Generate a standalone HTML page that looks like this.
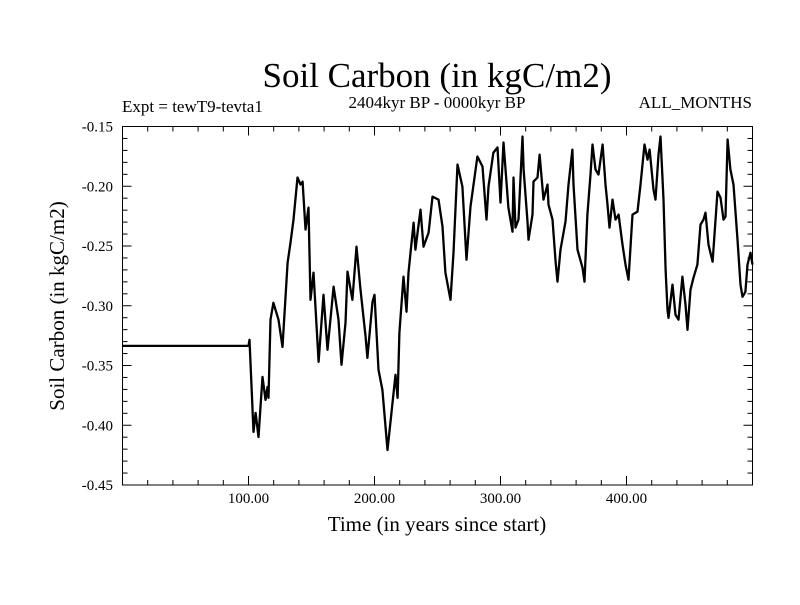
<!DOCTYPE html>
<html><head><meta charset="utf-8"><style>
body{margin:0;background:#fff}
svg text{font-family:"Liberation Serif",serif;fill:#000}
</style></head><body>
<svg id="chart" width="800" height="600" xmlns="http://www.w3.org/2000/svg">
<rect width="800" height="600" fill="#fff"/>
<text x="437" y="87" font-size="35" text-anchor="middle">Soil Carbon (in kgC/m2)</text>
<text x="437" y="108" font-size="17" text-anchor="middle">2404kyr BP - 0000kyr BP</text>
<text x="122" y="112" font-size="17">Expt = tewT9-tevta1</text>
<text x="752" y="108" font-size="17" text-anchor="end">ALL_MONTHS</text>
<text x="437" y="531" font-size="21" text-anchor="middle">Time (in years since start)</text>
<text transform="translate(64,306) rotate(-90)" font-size="21" text-anchor="middle">Soil Carbon (in kgC/m2)</text>
<g id="axes"></g>
<path id="series" fill="none" stroke="#000" stroke-width="2.3" stroke-linejoin="round"/>
<rect x="122.5" y="126.5" width="630" height="358.5" fill="none" stroke="#000" stroke-width="1"/>
</svg>
<script>
const years=[0,100,100.8,104.0,105.6,107.9,111.1,113.5,115.1,115.9,117.5,119.8,123.8,127.0,131.0,133.3,135.7,138.9,141.3,142.9,145.2,147.6,149.2,151.6,155.6,159.5,162.7,167.5,171.4,173.8,177.0,178.6,182.5,185.7,188.9,192.9,194.4,198.4,200.0,203.2,206.3,210.3,214.3,216.7,218.3,219.8,223.0,225.4,227.0,231.0,232.5,236.5,238.9,242.9,246.0,250.8,254.0,256.3,260.3,262.7,265.9,269.8,273.0,276.2,281.7,285.7,288.9,290.5,294.4,297.6,300.0,302.4,306.3,309.5,310.3,311.9,314.3,317.5,318.3,321.4,322.2,325.4,326.2,329.4,331.0,334.1,337.3,338.1,341.3,343.7,345.2,347.6,351.6,354.0,357.1,357.9,361.1,365.1,366.7,369.0,371.4,373.0,375.4,377.8,381.0,383.3,384.9,386.5,388.9,391.3,393.7,396.8,399.2,401.6,404.8,408.7,411.1,414.3,416.7,418.3,421.4,423.0,425.4,427.0,429.4,431.0,432.5,433.3,436.5,438.9,441.3,444.4,446.8,448.4,450.8,453.2,456.3,458.7,461.1,462.7,465.1,468.3,472.2,474.6,477.0,478.6,480.2,482.5,484.9,488.1,490.5,492.1,494.4,496.0,498.4,500];
const carbon=[-0.3336,-0.3336,-0.3285,-0.4056,-0.3897,-0.4098,-0.3595,-0.3788,-0.3679,-0.3771,-0.3117,-0.2975,-0.3117,-0.3344,-0.2640,-0.2472,-0.2279,-0.1927,-0.1986,-0.1961,-0.2363,-0.2179,-0.2950,-0.2723,-0.3469,-0.2908,-0.3369,-0.2841,-0.3117,-0.3494,-0.3143,-0.2715,-0.2950,-0.2506,-0.2866,-0.3260,-0.3436,-0.2967,-0.2908,-0.3536,-0.3704,-0.4207,-0.3813,-0.3578,-0.3771,-0.3226,-0.2757,-0.3050,-0.2723,-0.2304,-0.2531,-0.2196,-0.2506,-0.2388,-0.2087,-0.2112,-0.2338,-0.2723,-0.2950,-0.2556,-0.1818,-0.2003,-0.2615,-0.2170,-0.1751,-0.1835,-0.2279,-0.2003,-0.1718,-0.1676,-0.2137,-0.1634,-0.2179,-0.2380,-0.1927,-0.2346,-0.2279,-0.1584,-0.1860,-0.2296,-0.2447,-0.2237,-0.1961,-0.1927,-0.1735,-0.2112,-0.1986,-0.2154,-0.2279,-0.2631,-0.2799,-0.2531,-0.2296,-0.1986,-0.1693,-0.1986,-0.2531,-0.2682,-0.2799,-0.2237,-0.1902,-0.1651,-0.1860,-0.1902,-0.1651,-0.1986,-0.2154,-0.2346,-0.2112,-0.2279,-0.2237,-0.2489,-0.2656,-0.2782,-0.2237,-0.2212,-0.1986,-0.1651,-0.1777,-0.1693,-0.2028,-0.2112,-0.1735,-0.1584,-0.2112,-0.2698,-0.3034,-0.3101,-0.2824,-0.3076,-0.3117,-0.2757,-0.2992,-0.3201,-0.2866,-0.2765,-0.2656,-0.2321,-0.2279,-0.2221,-0.2489,-0.2631,-0.2045,-0.2095,-0.2279,-0.2254,-0.1609,-0.1860,-0.1986,-0.2447,-0.2824,-0.2925,-0.2883,-0.2656,-0.2556,-0.2656];
const xTickValues=[100,200,300,400];
const xTickLabels=["100.00","200.00","300.00","400.00"];
const yTickValues=[-0.15,-0.2,-0.25,-0.3,-0.35,-0.4,-0.45];
const yTickLabels=["-0.15","-0.20","-0.25","-0.30","-0.35","-0.40","-0.45"];
const X0=122.5,X1=752.5,Y0=126.5,Y1=485;
function sx(v){return X0+(v-0)/(500-0)*(X1-X0);}
function sy(v){return Y0+(-0.15-v)/(0.3)*(Y1-Y0);}
const NS="http://www.w3.org/2000/svg";
const g=document.getElementById('axes');
function line(x1,y1,x2,y2,name){const l=document.createElementNS(NS,'line');l.setAttribute('x1',x1);l.setAttribute('y1',y1);l.setAttribute('x2',x2);l.setAttribute('y2',y2);l.setAttribute('stroke','#000');l.setAttribute('stroke-width','1');


g.appendChild(l);}
for(let v=0;v<=500;v+=20){const x=sx(v);const len=(v%100===0)?9:5;line(x,Y1,x,Y1-len,'x-tick');line(x,Y0,x,Y0+len,'x-tick-top');}
for(let i=0;i<=30;i++){const v=-0.15-i*0.01;const y=sy(v);const len=(i%5===0)?9:5;line(X0,y,X0+len,y,'y-tick');line(X1,y,X1-len,y,'y-tick-right');}
xTickValues.forEach((v,i)=>{const t=document.createElementNS(NS,'text');t.setAttribute('x',sx(v));t.setAttribute('y',503);t.setAttribute('font-size','15');t.setAttribute('text-anchor','middle');t.textContent=xTickLabels[i];


g.appendChild(t);});
yTickValues.forEach((v,i)=>{const t=document.createElementNS(NS,'text');t.setAttribute('x',113);t.setAttribute('y',sy(v)+5);t.setAttribute('font-size','15');t.setAttribute('text-anchor','end');t.textContent=yTickLabels[i];


g.appendChild(t);});
let d='';years.forEach((yr,i)=>{d+=(i?'L':'M')+sx(yr).toFixed(1)+','+sy(carbon[i]).toFixed(1);});
document.getElementById('series').setAttribute('d',d);
</script>
</body></html>
